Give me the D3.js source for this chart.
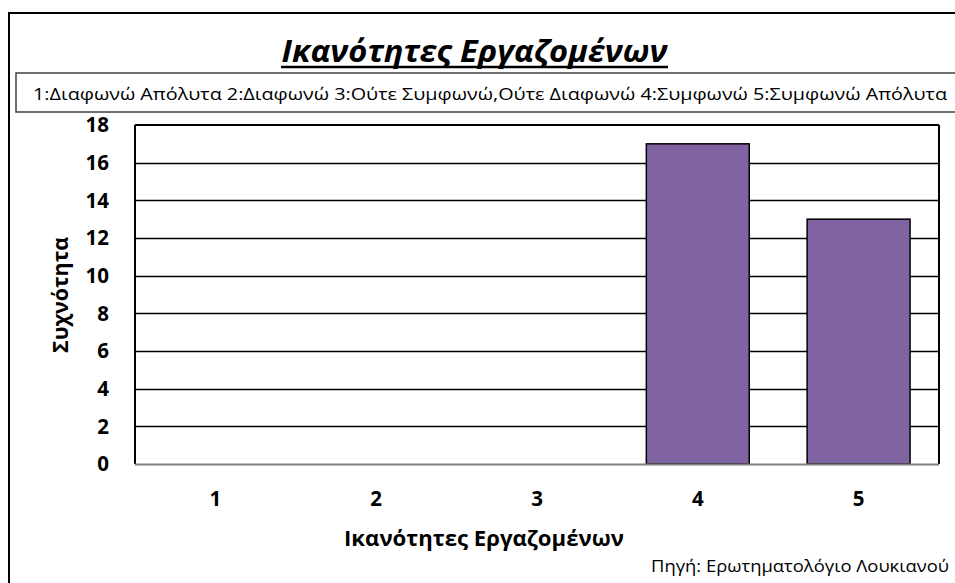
<!DOCTYPE html>
<html>
<head>
<meta charset="utf-8">
<script src="https://cdn.jsdelivr.net/npm/d3@7"></script>
<style>
  html, body { margin: 0; padding: 0; background: #fff; }
  svg { display: block; }
  text { font-family: "Open Sans", "Noto Sans", sans-serif; fill: #000; }
</style>
</head>
<body>
<div id="chart"></div>
<script>
// ---- data ----
const categories = ["1", "2", "3", "4", "5"];
const values = [0, 0, 0, 17, 13];
const yTicks = [0, 2, 4, 6, 8, 10, 12, 14, 16, 18];
const titleText = "Ικανότητες Εργαζομένων";
const legendText = "1:Διαφωνώ Απόλυτα 2:Διαφωνώ 3:Ούτε Συμφωνώ,Ούτε Διαφωνώ 4:Συμφωνώ 5:Συμφωνώ Απόλυτα";
const xTitle = "Ικανότητες Εργαζομένων";
const yTitle = "Συχνότητα";
const sourceText = "Πηγή: Ερωτηματολόγιο Λουκιανού";

const W = 955, H = 583;
const plot = { left: 135, right: 939, top: 125, bottom: 464 };

const svg = d3.select("#chart").append("svg").attr("width", W).attr("height", H);

// outer chart border (extends past the window)
svg.append("rect").attr("x", 9).attr("y", 13).attr("width", 980).attr("height", 620)
  .attr("fill", "none").attr("stroke", "#000").attr("stroke-width", 2);

// title
svg.append("text").attr("x", 474.5).attr("y", 62).attr("text-anchor", "middle")
  .attr("font-size", 31).attr("font-weight", "bold").attr("font-style", "italic")
  .attr("textLength", 386).attr("lengthAdjust", "spacingAndGlyphs")
  .text(titleText);
svg.append("line").attr("x1", 281).attr("x2", 668).attr("y1", 67).attr("y2", 67)
  .attr("stroke", "#000").attr("stroke-width", 2.5);

// legend box
svg.append("rect").attr("x", 16).attr("y", 73).attr("width", 960).attr("height", 39)
  .attr("fill", "#fff").attr("stroke", "#404040").attr("stroke-width", 1.5);
svg.append("text").attr("x", 33).attr("y", 100)
  .attr("font-size", 16)
  .attr("textLength", 914).attr("lengthAdjust", "spacingAndGlyphs")
  .text(legendText);

// scales
const x = d3.scaleBand().domain(categories).range([plot.left, plot.right]).paddingInner(0.36).paddingOuter(0.18);
const y = d3.scaleLinear().domain([0, 18]).range([plot.bottom, plot.top]);

// gridlines
svg.append("g").selectAll("line").data(yTicks.filter(d => d > 0 && d < 18)).join("line")
  .attr("x1", plot.left).attr("x2", plot.right)
  .attr("y1", d => Math.round(y(d)) + 0.5).attr("y2", d => Math.round(y(d)) + 0.5)
  .attr("stroke", "#000").attr("stroke-width", 1.3);

// plot frame top and right
svg.append("line").attr("x1", plot.left).attr("x2", plot.right).attr("y1", plot.top).attr("y2", plot.top)
  .attr("stroke", "#000").attr("stroke-width", 2);
svg.append("line").attr("x1", plot.right).attr("x2", plot.right).attr("y1", plot.top).attr("y2", plot.bottom)
  .attr("stroke", "#000").attr("stroke-width", 2);

// bars
svg.append("g").selectAll("rect").data(categories.map((c, i) => ({ c, v: values[i] })).filter(d => d.v > 0)).join("rect")
  .attr("x", d => x(d.c)).attr("width", x.bandwidth())
  .attr("y", d => y(d.v)).attr("height", d => y(0) - y(d.v))
  .attr("fill", "#8064A2").attr("stroke", "#000").attr("stroke-width", 1.5);

// y axis line
svg.append("line").attr("x1", plot.left).attr("x2", plot.left).attr("y1", plot.top).attr("y2", plot.bottom)
  .attr("stroke", "#000").attr("stroke-width", 2);
// x axis line (grey)
svg.append("line").attr("x1", plot.left).attr("x2", plot.right).attr("y1", plot.bottom + 0.5).attr("y2", plot.bottom + 0.5)
  .attr("stroke", "#808080").attr("stroke-width", 2);

// y tick labels
svg.append("g").selectAll("text").data(yTicks).join("text")
  .attr("x", 109).attr("y", d => y(d)).attr("dy", "0.36em").attr("text-anchor", "end")
  .attr("font-size", 20.5).attr("font-weight", "bold").text(d => d);

// x tick labels
svg.append("g").selectAll("text").data(categories).join("text")
  .attr("x", d => x(d) + x.bandwidth() / 2).attr("y", 499).attr("dy", "0.36em").attr("text-anchor", "middle")
  .attr("font-size", 20.5).attr("font-weight", "bold").text(d => d);

// axis titles
svg.append("text").attr("x", 484).attr("y", 538).attr("dy", "0.36em").attr("text-anchor", "middle")
  .attr("font-size", 21).attr("font-weight", "bold")
  .attr("textLength", 280).attr("lengthAdjust", "spacingAndGlyphs")
  .text(xTitle);
svg.append("text").attr("transform", "translate(60,295) rotate(-90)").attr("dy", "0.36em").attr("text-anchor", "middle")
  .attr("font-size", 21).attr("font-weight", "bold")
  .attr("textLength", 116).attr("lengthAdjust", "spacingAndGlyphs")
  .text(yTitle);

// source
svg.append("text").attr("x", 949).attr("y", 566).attr("dy", "0.36em").attr("text-anchor", "end")
  .attr("font-size", 17)
  .attr("textLength", 298).attr("lengthAdjust", "spacingAndGlyphs")
  .text(sourceText);
</script>
</body>
</html>
